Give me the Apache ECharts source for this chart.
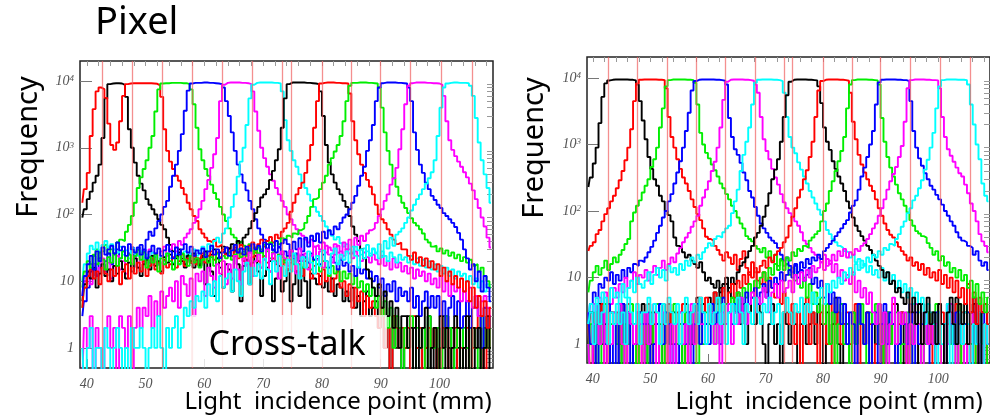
<!DOCTYPE html>
<html><head><meta charset="utf-8">
<script src="https://cdn.jsdelivr.net/npm/echarts@6/dist/echarts.min.js"></script>
<style>html,body{margin:0;padding:0;background:#fff}#c{width:990px;height:417px}</style>
</head><body><div id="c"></div>
<script>
// Histogram bins: first bin starts at 39 mm, bin width 0.5 mm (140 bins to 109 mm)
const BIN0 = 39, BINW = 0.5;
const X_TICKS = [40, 50, 60, 70, 80, 90, 100];
const X_MINOR = [40,42,44,46,48,50,52,54,56,58,60,62,64,66,68,70,72,74,76,78,80,82,84,86,88,90,92,94,96,98,100,102,104,106,108];
const Y_TICKS = [1, 10, 100, 1000, 10000];
const Y_MINOR = [0.6,0.7,0.8,0.9,2,3,4,5,6,7,8,9,20,30,40,50,60,70,80,90,200,300,400,500,600,700,800,900,2000,3000,4000,5000,6000,7000,8000,9000];
const BOUNDARIES = [42.7, 47.8, 52.9, 58.0, 63.1, 68.2, 73.3, 74.7, 80.0, 85.0, 90.0, 95.1, 100.3, 105.5];

// ---------- left panel (Pixel) ----------
const L_k1 = [
90,120,170,220,300,380,560,1400,5500,9000,
9200,9300,9300,9200,8800,5800,1900,1000,600,380,
290,230,170,140,120,100,85,70,60,45,
35,28,24,30,22,18,25,20,16,22,
18,24,9,20,14,6,22,16,8,18,
15,7,24,18,5,17,21,9,19,24,
14,6,12,16,20,5,11,17,7,10,
15,5,9,14,6,16,10,4,13,11,
9,12,8,10,7,11,6,9,8,5,
7,5,8,4,6,3,5,7,3,4,
5,2,3,1,2,0,3,1,2,0,
1,3,0,2,1,0,2,1,3,0,
2,0,1,3,0,1,2,0,1,2,
0,1,3,0,2,1,0,2,1,0];
const L_r1 = [
150,240,420,1500,3800,7000,8000,7600,5600,2300,
1100,930,1200,2500,6000,9000,9200,9300,9300,9300,
9300,9300,9300,9300,9200,9100,8600,5800,1900,900,
620,480,380,320,250,200,150,120,95,80,
60,52,45,40,38,42,33,35,28,32,
30,24,28,22,26,20,25,18,23,27,
20,16,24,19,14,22,18,25,17,21,
15,19,23,14,18,12,20,16,11,17,
13,9,15,10,12,7,11,14,8,10,
6,9,4,8,5,7,3,6,4,5,
3,2,4,1,2,0,3,2,1,2,
1,2,0,3,1,2,0,1,2,1,
2,0,1,2,3,0,1,2,0,1,
1,2,0,1,2,3,1,0,2,1];
const L_g1 = [
4,8,12,18,25,30,22,28,35,26,
30,26,38,42,40,55,70,95,150,250,
360,480,650,1000,1500,3500,7500,9200,9300,9300,
9400,9400,9400,9400,9300,9300,9000,7500,4500,2000,
950,650,480,380,280,210,170,130,100,80,
62,50,45,38,40,34,30,36,28,32,
26,30,24,28,22,27,20,25,23,19,
24,21,18,25,20,16,22,19,15,21,
18,14,20,16,12,17,13,15,10,14,
11,13,9,12,8,10,7,9,6,8,
4,6,3,5,2,4,1,3,2,0,
2,1,3,0,2,1,2,0,3,1,
1,2,0,1,3,2,0,1,2,0,
2,1,0,2,1,0,3,1,2,1];
const L_b1 = [
3,5,8,14,18,12,22,16,20,26,
18,25,30,22,28,20,26,32,24,30,
35,28,42,55,48,62,80,100,130,160,
260,380,560,900,1600,3600,7200,9200,9400,9400,
9400,9500,9500,9400,9400,9300,9200,9000,8000,5000,
3000,1700,900,560,400,300,230,160,120,85,
62,50,42,36,38,30,27,32,25,28,
24,29,22,26,20,25,23,19,26,21,
22,18,25,20,16,23,19,15,21,17,
19,14,17,12,16,13,15,11,14,10,
12,8,11,6,9,7,10,5,8,6,
7,5,8,4,6,3,5,7,4,6,
4,6,3,5,2,4,6,3,5,2,
3,5,2,4,6,3,1,4,2,3];
const L_m1 = [
6,10,14,9,18,12,16,22,14,19,
11,17,24,15,20,13,25,18,22,16,
27,19,23,30,21,26,18,28,33,24,
30,36,28,40,35,45,52,60,75,90,
120,160,240,330,500,800,1400,5000,8800,9400,
9500,9500,9500,9500,9400,9400,9300,9000,7000,3500,
1800,1000,700,520,400,320,250,200,160,130,
100,85,70,60,52,48,42,38,42,33,
35,30,38,27,32,29,25,34,28,24,
30,26,22,28,24,20,27,23,19,25,
21,18,24,17,20,15,22,16,19,14,
17,13,16,11,15,12,14,10,13,9,
11,8,12,7,10,6,9,7,8,5,
7,5,8,4,6,3,5,6,4,3];
const L_c1 = [
10,18,26,34,30,38,28,35,40,32,
36,30,27,33,25,29,22,31,26,24,
28,21,25,19,27,23,18,24,20,26,
22,19,25,18,23,28,21,26,30,24,
29,33,27,36,31,40,45,38,52,62,
90,130,200,370,620,1000,2200,5500,8800,9400,
9500,9500,9500,9500,9500,9400,9400,9200,7000,2600,
1300,900,650,520,400,300,250,200,160,130,
110,95,80,66,56,48,42,46,37,33,
36,30,27,33,29,25,31,28,24,30,
26,22,28,24,20,27,23,19,25,21,
23,19,24,18,22,17,21,16,20,15,
18,14,17,13,16,12,15,11,14,12,
13,10,12,9,11,8,10,7,9,8];
const L_k2 = [
5,9,14,11,16,8,13,18,12,15,
10,17,13,20,15,11,19,14,22,16,
12,18,21,15,24,17,20,14,23,19,
25,18,22,27,20,16,24,19,26,21,
17,23,28,20,25,30,22,27,33,26,
31,36,29,40,35,45,50,62,80,105,
130,180,200,240,330,450,650,950,2000,5500,
9000,9500,9500,9500,9500,9500,9400,9400,9300,9200,
9000,7000,3000,1100,600,400,300,240,200,160,
130,95,66,50,40,30,22,15,11,8,
6,9,4,7,3,5,2,4,1,3,
3,1,2,0,3,1,2,4,0,1,
2,0,3,1,2,0,1,3,2,0,
1,3,0,2,1,2,0,1,3,1];
const L_r2 = [
4,8,12,15,11,14,9,16,13,10,
15,12,17,9,14,18,11,16,13,19,
14,20,12,17,22,15,19,13,21,16,
18,23,16,20,25,17,22,19,24,18,
22,26,19,24,28,21,27,23,30,25,
28,24,32,27,35,30,26,34,38,31,
36,42,33,40,46,38,50,44,55,62,
75,110,150,200,250,300,420,650,1100,2000,
5000,9200,9400,9500,9500,9500,9400,9400,9300,9300,
9200,6500,2500,1300,800,560,420,330,260,200,
140,100,85,75,60,50,42,36,38,30,
30,24,21,27,19,23,17,22,16,20,
15,18,12,16,10,14,9,12,8,11,
7,10,5,8,4,6,3,5,2,4];
const L_g2 = [
8,14,20,16,24,18,27,21,15,23,
19,26,17,22,28,20,25,18,24,29,
21,27,16,23,19,25,14,22,18,26,
20,15,23,18,26,21,17,24,19,22,
16,21,25,19,23,17,26,20,24,22,
27,21,25,30,23,28,24,31,26,29,
32,27,35,30,38,34,40,36,44,42,
48,45,52,50,58,62,75,95,130,170,
180,240,300,380,560,700,880,1100,1500,2500,
5000,8500,9400,9400,9500,9500,9500,9400,9400,9300,
9200,8000,4000,1700,900,560,350,260,190,150,
125,105,88,75,68,60,52,42,38,33,
34,28,31,26,29,24,27,22,25,20,
23,19,21,17,18,14,16,12,10,8];
const L_b2 = [
6,12,18,24,15,28,20,32,25,30,
34,26,38,29,33,24,36,30,27,32,
25,30,22,28,34,26,31,24,29,35,
28,22,32,25,30,36,27,33,24,29,
26,31,23,28,34,25,30,22,27,32,
24,29,35,27,31,25,33,28,36,30,
34,28,38,31,36,29,40,33,37,42,
36,24,39,30,44,28,45,33,48,40,
52,38,55,44,58,50,66,60,75,90,
100,120,150,190,270,380,520,900,1300,2200,
5000,8000,9300,9500,9500,9500,9500,9400,9400,9300,
9200,8000,5000,1700,930,560,420,300,240,190,
165,140,125,105,95,85,75,65,53,42,
30,22,15,18,10,14,7,12,8,5];
const L_m2 = [
0,2,1,3,0,2,1,0,2,3,
1,2,0,3,2,1,3,0,2,4,
2,4,3,6,2,5,3,7,4,6,
8,5,10,4,12,9,6,11,3,13,
10,14,6,16,12,8,18,13,20,9,
18,11,24,15,9,22,17,27,12,20,
25,16,21,30,14,26,19,11,28,22,
17,29,23,13,31,20,26,15,24,33,
21,28,16,34,25,19,36,27,22,38,
30,42,26,45,35,48,40,52,58,62,
75,95,120,160,200,280,350,500,950,1900,
4500,8500,9300,9500,9500,9500,9500,9400,9400,9300,
9300,9200,8800,6000,2500,1300,930,750,620,520,
430,360,290,230,170,125,90,66,45,32];
const L_c2 = [
1,0,1,2,0,1,1,0,2,1,
0,1,2,1,0,1,0,2,1,1,
2,1,0,1,2,1,3,1,0,2,
1,2,3,1,2,4,3,5,4,6,
5,7,4,9,6,10,5,12,8,11,
13,7,15,10,6,14,19,9,16,12,
18,11,22,15,9,20,14,24,17,12,
21,14,26,18,11,23,16,28,19,13,
24,17,29,20,13,26,31,18,25,21,
28,19,33,24,16,30,22,35,26,31,
27,36,23,40,31,45,34,50,55,62,
75,90,115,140,170,200,240,290,350,430,
650,1500,4000,8000,9200,9400,9500,9500,9400,9400,
9400,9300,8500,6000,2800,1200,650,400,250,150];

// ---------- right panel ----------
const R_k1 = [
230,320,520,900,2100,5200,8300,9200,9400,9500,
9500,9500,9500,9500,9400,9400,9200,8000,4500,2300,
1200,650,430,300,240,170,140,100,87,70,
40,30,28,24,20,22,18,16,14,17,
12,9,10,8,7,9,6,8,10,7,
5,3,6,2,4,1,3,5,2,4,
3,1,0,2,4,1,2,0,3,2,
1,3,2,0,2,4,1,2,3,1,
4,2,0,3,1,2,5,1,0,2,
2,0,3,1,4,2,1,3,0,2,
1,4,2,0,3,1,2,4,1,3,
0,2,1,3,2,0,4,2,3,1,
3,1,4,2,0,3,1,2,5,2,
2,3,0,1,4,2,3,0,2,1];
const R_r1 = [
25,30,34,45,52,70,90,110,140,170,
220,290,400,580,900,1700,4500,8300,9400,9500,
9500,9500,9500,9500,9400,9400,9300,7000,2600,1300,
900,600,430,320,260,200,150,115,90,73,
55,41,38,36,30,26,22,18,24,20,
16,22,13,19,25,14,11,17,12,9,
8,12,6,10,7,5,8,4,6,3,
2,4,1,3,0,2,5,1,3,2,
0,3,2,1,4,0,2,3,1,2,
3,1,2,4,0,2,1,3,2,0,
1,2,0,3,2,1,4,0,2,3,
2,0,3,1,2,4,0,2,1,3,
0,2,1,3,0,2,3,1,4,0,
3,1,0,2,3,0,1,2,0,3];
const R_g1 = [
6,9,12,15,11,14,18,13,16,20,
17,22,26,32,38,70,95,120,145,190,
240,300,460,600,900,1800,3500,7500,9300,9500,
9500,9500,9500,9500,9400,9400,9300,8500,4000,1500,
1000,750,620,500,410,330,260,220,180,150,
120,100,80,65,55,42,38,35,30,27,
24,28,20,25,18,22,15,19,13,16,
11,14,9,12,7,10,5,8,4,6,
3,5,2,4,1,3,0,2,4,1,
2,0,3,1,2,4,1,0,3,2,
4,1,2,0,3,1,2,3,0,1,
1,3,0,2,4,2,0,1,3,2,
2,4,1,0,2,3,1,2,0,4,
0,2,3,1,0,2,4,1,2,0];
const R_b1 = [
2,4,6,5,8,7,10,9,12,8,
11,9,13,10,14,12,16,15,18,17,
20,24,29,36,47,60,80,100,140,180,
260,380,560,900,1600,3000,6500,9000,9400,9500,
9500,9500,9500,9500,9400,9400,9300,9100,8000,2500,
1300,850,700,530,380,290,200,160,115,85,
65,55,47,40,36,33,28,22,18,20,
15,12,16,10,13,9,11,14,8,10,
7,9,5,8,4,6,3,5,2,4,
1,3,2,0,4,2,1,3,0,2,
3,0,2,4,1,3,2,0,1,2,
2,1,4,0,3,1,2,3,1,0,
0,3,1,2,0,4,2,1,3,2,
1,2,3,0,2,1,0,3,2,1];
const R_m1 = [
3,1,4,2,5,3,6,2,4,7,
5,8,6,10,7,9,12,8,11,10,
13,9,12,15,11,14,18,13,16,20,
17,23,28,34,40,47,58,70,85,120,
160,210,280,400,550,900,1800,4700,8800,9400,
9500,9500,9500,9500,9400,9400,9300,9100,8000,6000,
2600,1200,800,600,430,320,250,180,135,110,
93,80,70,60,48,36,32,28,24,22,
20,17,22,15,18,12,16,10,13,9,
11,8,12,6,9,5,7,4,6,3,
2,4,1,3,0,2,5,1,3,2,
3,0,2,1,4,2,0,3,1,2,
1,2,3,0,2,1,4,2,0,3,
2,0,1,3,2,4,1,0,2,1];
const R_c1 = [
2,4,3,5,2,6,4,3,7,5,
6,4,8,5,7,9,6,10,8,7,
9,12,8,11,14,10,13,9,15,12,
14,11,16,13,18,15,20,17,22,19,
24,28,33,30,38,42,40,48,55,60,
93,140,210,400,700,1100,1800,4000,8500,9400,
9500,9500,9500,9500,9400,9400,9300,9000,6000,2600,
1300,900,740,540,420,330,260,200,160,130,
105,88,70,52,45,38,34,30,28,25,
24,20,22,17,19,14,16,12,15,11,
13,10,14,9,12,8,11,7,9,6,
8,5,7,4,6,3,5,2,4,3,
2,0,3,1,2,4,0,2,1,3,
1,3,2,0,2,1,3,0,2,1];
const R_k2 = [
1,3,0,2,4,1,2,0,3,2,
2,0,4,1,3,2,0,1,3,4,
0,2,1,3,2,0,4,2,1,3,
3,1,2,0,4,3,1,2,5,2,
4,2,5,3,6,4,7,5,8,6,
10,8,12,15,17,20,25,30,40,47,
60,82,120,185,300,420,600,1100,2600,5500,
8800,9400,9500,9500,9500,9500,9400,9400,9300,9200,
7500,4200,1800,1100,830,560,430,330,260,200,
140,110,80,60,50,42,36,30,26,22,
18,15,13,10,12,8,9,6,7,5,
4,6,3,5,2,4,1,3,5,2,
3,1,4,2,0,3,5,2,1,4,
2,4,1,3,5,2,0,3,4,2];
const R_r2 = [
2,0,1,3,2,4,0,1,3,2,
3,1,2,0,4,2,1,3,0,2,
1,4,0,2,3,1,2,0,4,1,
2,3,1,4,0,2,3,1,2,5,
3,5,2,4,6,3,5,7,4,6,
8,5,9,7,11,8,12,10,14,12,
15,18,14,20,17,22,25,28,34,40,
60,82,110,160,210,300,410,650,1100,2600,
6500,9000,9400,9500,9500,9500,9500,9400,9400,9300,
9100,6000,2200,1200,700,500,380,300,240,200,
150,110,85,65,52,44,40,34,29,25,
22,18,20,15,17,13,16,11,14,10,
12,9,13,8,11,7,10,6,9,5,
7,4,8,3,6,2,5,3,4,2];
const R_g2 = [
0,2,1,3,0,2,4,1,2,3,
1,3,0,2,1,4,2,0,3,1,
2,0,3,1,4,2,0,3,1,2,
4,1,2,0,3,1,2,4,0,2,
1,3,2,4,1,3,5,2,4,3,
5,3,6,4,7,5,8,6,9,7,
10,12,9,14,11,16,13,18,15,20,
18,24,21,27,25,30,28,36,40,45,
50,70,100,130,200,280,400,560,800,1300,
3500,8000,9300,9500,9500,9500,9500,9400,9400,9300,
9200,8000,2500,1100,650,450,330,250,185,150,
120,95,73,60,50,46,42,40,33,28,
22,25,18,21,15,17,12,14,10,13,
9,11,7,9,5,8,4,6,3,5];
const R_b2 = [
3,1,2,0,2,3,1,4,0,2,
0,2,4,1,3,0,2,1,3,2,
2,3,0,1,2,4,1,3,2,0,
1,0,3,2,1,3,0,2,4,1,
3,2,1,4,2,3,1,5,2,3,
2,4,3,5,3,6,4,5,7,4,
6,8,5,9,7,10,8,12,9,11,
13,10,15,12,17,14,19,16,20,18,
22,19,25,28,32,36,42,48,55,64,
73,95,120,145,210,330,450,650,1000,1600,
4000,8600,9400,9500,9500,9500,9500,9400,9400,9300,
9300,9000,4500,1600,900,620,480,370,300,240,
210,175,150,125,100,85,70,60,48,40,
36,34,30,28,22,25,18,15,17,13];
const R_m2 = [
1,0,2,4,1,3,0,2,1,3,
2,4,1,0,3,2,1,3,2,0,
3,1,2,4,0,1,3,2,0,2,
0,2,3,1,2,0,4,1,3,2,
2,1,4,3,1,2,0,3,2,4,
1,3,2,5,3,2,4,6,3,5,
4,7,5,3,6,8,5,9,6,7,
9,6,11,8,12,9,13,10,15,12,
14,17,13,19,16,22,18,25,21,27,
20,24,22,27,25,30,33,38,45,55,
65,85,110,150,210,280,360,460,650,950,
2200,7000,9300,9500,9500,9500,9500,9400,9400,9300,
9300,9200,7000,2600,1300,850,680,550,450,370,
330,250,185,130,100,70,45,35,30,24];
const R_c2 = [
2,3,1,4,2,3,5,1,3,2,
4,2,3,1,5,3,2,4,1,3,
3,5,2,4,3,1,4,2,5,3,
2,4,1,3,5,2,3,4,2,5,
3,1,4,2,3,5,2,4,1,3,
4,2,5,3,1,4,3,2,5,3,
2,4,3,5,2,3,4,1,3,5,
3,2,4,3,5,2,4,3,6,4,
5,7,4,8,6,9,7,10,8,12,
10,14,11,16,13,18,15,20,17,22,
20,25,22,28,26,32,30,38,45,58,
70,93,110,145,170,220,290,420,590,900,
1500,3500,7500,9300,9500,9500,9500,9500,9400,9400,
9400,9300,8000,4000,2000,1000,600,260,170,140];

const COLORS = {k:'#000000', r:'#ff0000', g:'#00ee00', b:'#0000ff', m:'#ff00ff', c:'#00ffff'};
const LEFT = [['k',L_k1],['r',L_r1],['g',L_g1],['b',L_b1],['m',L_m1],['c',L_c1],['k',L_k2],['r',L_r2],['g',L_g2],['b',L_b2],['m',L_m2],['c',L_c2]];
const RIGHT = [['k',R_k1],['r',R_r1],['g',R_g1],['b',R_b1],['m',R_m1],['c',R_c1],['k',R_k2],['r',R_r2],['g',R_g2],['b',R_b2],['m',R_m2],['c',R_c2]];

// empty bins (0 counts) are sent below the log axis floor so the step drops out of the frame
function toData(arr){ return arr.map((v,i)=>[BIN0 + BINW*(i+0.5), v > 0 ? v : 0.3]); }

const SERIF = '"Liberation Serif", "DejaVu Serif", serif';
const SANS = '"Noto Sans", "DejaVu Sans", sans-serif';

function yFmt(v){
  const e = Math.round(Math.log10(v));
  if (e === 0) return '{b|1}';
  if (e === 1) return '{b|10}';
  return '{b|10}{s|' + e + '}';
}
const yRich = {
  b: {fontFamily: SERIF, fontStyle:'italic', fontSize:14, color:'#555', lineHeight:14},
  s: {fontFamily: SERIF, fontStyle:'italic', fontSize:9, color:'#555', lineHeight:9, verticalAlign:'top', padding:[0,0,18,0]}
};

const PANELS = [
  {grid:{left:80, top:61, width:413, height:307}, xmin:38.85, xmax:109.1, ymin:0.5, ymax:20000, sets:LEFT},
  {grid:{left:587, top:57, width:408, height:306}, xmin:39, xmax:109, ymin:0.52, ymax:20700, sets:RIGHT}
];

const grids = [], xAxes = [], yAxes = [], series = [];
PANELS.forEach((p, gi) => {
  grids.push(Object.assign({show:true, borderColor:'#222', borderWidth:1.5, backgroundColor:'#fff', containLabel:false}, p.grid));
  xAxes.push({type:'value', gridIndex:gi, min:p.xmin, max:p.xmax, axisLine:{show:false}, splitLine:{show:false},
    axisTick:{show:true, inside:true, length:9, customValues:X_TICKS, lineStyle:{color:'#777'}},
    axisLabel:{show:true, customValues:X_TICKS, margin:9, fontFamily:SERIF, fontStyle:'italic', fontSize:14, color:'#555'}});
  xAxes.push({type:'value', gridIndex:gi, min:p.xmin, max:p.xmax, axisLine:{show:false}, splitLine:{show:false},
    axisTick:{show:true, inside:true, length:5, customValues:X_MINOR, lineStyle:{color:'#999'}},
    axisLabel:{show:false}});
  yAxes.push({type:'log', logBase:10, gridIndex:gi, min:p.ymin, max:p.ymax, axisLine:{show:false}, splitLine:{show:false},
    axisTick:{show:true, inside:true, length:12, customValues:Y_TICKS, lineStyle:{color:'#777'}},
    axisLabel:{show:true, customValues:Y_TICKS, margin:6, formatter:yFmt, rich:yRich}});
  yAxes.push({type:'log', logBase:10, gridIndex:gi, min:p.ymin, max:p.ymax, axisLine:{show:false}, splitLine:{show:false},
    axisTick:{show:true, inside:true, length:6, customValues:Y_MINOR, lineStyle:{color:'#999'}},
    axisLabel:{show:false}});
  // pixel boundary lines
  series.push({type:'line', xAxisIndex:gi*2, yAxisIndex:gi*2, data:[[p.xmin - 5, 1]], showSymbol:false, silent:true,
    lineStyle:{opacity:0}, z:1,
    markLine:{silent:true, symbol:'none', animation:false, label:{show:false},
      lineStyle:{color:'#f06060', width:1.3, type:'solid', opacity:0.7},
      data: BOUNDARIES.map(b => ({xAxis:b}))}});
  p.sets.forEach(([col, arr]) => {
    series.push({type:'line', xAxisIndex:gi*2, yAxisIndex:gi*2, data:toData(arr), step:'middle',
      showSymbol:false, symbol:'none', silent:true, z:2,
      lineStyle:{color:COLORS[col], width:1.9}, itemStyle:{color:COLORS[col]}});
  });
});

const graphic = [
  {type:'text', x:95, y:23, z:100, style:{text:'Pixel', font:'38px ' + SANS, fill:'#000', textAlign:'left', textVerticalAlign:'middle', align:'left', verticalAlign:'middle'}},
  {type:'text', x:29, y:147, rotation:Math.PI/2, z:100, style:{text:'Frequency', font:'29px ' + SANS, fill:'#000', textAlign:'center', textVerticalAlign:'middle', align:'center', verticalAlign:'middle'}},
  {type:'text', x:535, y:148, rotation:Math.PI/2, z:100, style:{text:'Frequency', font:'29px ' + SANS, fill:'#000', textAlign:'center', textVerticalAlign:'middle', align:'center', verticalAlign:'middle'}},
  {type:'text', x:338, y:402, z:100, style:{text:'Light  incidence point (mm)', font:'24px ' + SANS, fill:'#000', textAlign:'center', textVerticalAlign:'middle', align:'center', verticalAlign:'middle'}},
  {type:'text', x:829, y:402, z:100, style:{text:'Light  incidence point (mm)', font:'24px ' + SANS, fill:'#000', textAlign:'center', textVerticalAlign:'middle', align:'center', verticalAlign:'middle'}},
  {type:'rect', z:90, shape:{x:192, y:315, width:195, height:52}, style:{fill:'rgba(255,255,255,0.8)'}},
  {type:'text', x:287, y:345, z:100, style:{text:'Cross-talk', font:'34px ' + SANS, fill:'#000', textAlign:'center', textVerticalAlign:'middle', align:'center', verticalAlign:'middle'}}
];

const chart = echarts.init(document.getElementById('c'), null, {renderer:'canvas', width:990, height:417});
chart.setOption({animation:false, backgroundColor:'#fff', grid:grids, xAxis:xAxes, yAxis:yAxes, series:series, graphic:graphic});
</script></body></html>
